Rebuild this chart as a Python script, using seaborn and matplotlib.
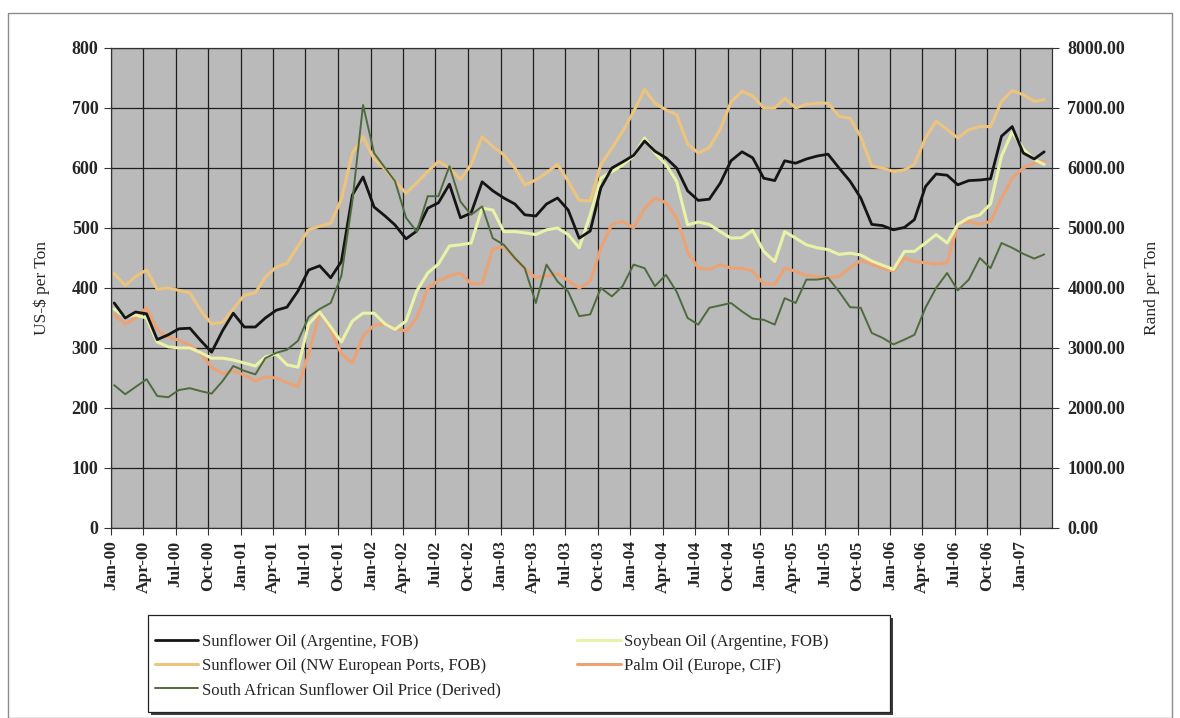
import numpy as np
import pandas as pd
import matplotlib
matplotlib.use("Agg")
import matplotlib.pyplot as plt
import seaborn as sns
from matplotlib.patches import Rectangle

# ---------------- data ----------------
months = pd.date_range("2000-01-01", periods=87, freq="MS")
obs_dates = months + pd.Timedelta(days=9)

sunflower_arg = [375, 350, 360, 357, 314, 322, 332, 333, 312, 293, 329, 358,
                 335, 335, 350, 363, 368, 395, 430, 437, 417, 444, 555, 585,
                 535, 520, 505, 482, 495, 533, 542, 573, 517, 525, 577, 562,
                 550, 540, 522, 520, 540, 550, 530, 483, 495, 567, 600, 610,
                 621, 645, 628, 617, 600, 562, 546, 548, 575, 612, 627, 617,
                 583, 579, 612, 608, 615, 620, 623, 600, 578, 550, 506, 504,
                 497, 501, 514, 569, 590, 588, 572, 579, 580, 582, 653, 669,
                 625, 615, 627]

soybean_arg = [365, 352, 355, 350, 310, 302, 300, 300, 292, 283, 283, 280,
               275, 270, 285, 290, 272, 268, 340, 360, 335, 310, 345, 358,
               358, 340, 331, 345, 395, 425, 440, 470, 472, 475, 533, 530,
               494, 494, 492, 489, 497, 500, 489, 467, 522, 583, 594, 605,
               620, 650, 625, 606, 578, 505, 510, 506, 494, 483, 484, 496,
               461, 444, 494, 483, 472, 467, 464, 456, 458, 455, 445, 438,
               431, 461, 461, 475, 489, 475, 506, 517, 522, 540, 620, 660,
               632, 614, 606]

sunflower_nw = [424, 404, 419, 430, 398, 400, 396, 392, 362, 340, 343, 365,
                388, 392, 418, 435, 441, 470, 497, 503, 508, 548, 625, 652,
                615, 598, 578, 558, 575, 594, 611, 600, 581, 606, 652, 636,
                622, 600, 572, 580, 592, 606, 578, 546, 545, 606, 633, 661,
                694, 731, 708, 697, 689, 640, 625, 634, 665, 710, 728, 720,
                700, 700, 716, 700, 706, 708, 708, 686, 683, 652, 603, 600,
                594, 597, 606, 650, 678, 664, 650, 664, 669, 669, 711, 729,
                722, 711, 714]

palm_europe = [355, 340, 350, 367, 330, 318, 313, 305, 290, 268, 257, 262,
               255, 245, 252, 250, 242, 236, 290, 360, 330, 290, 275, 320,
               338, 340, 333, 328, 350, 400, 412, 420, 425, 407, 408, 465,
               469, 450, 432, 417, 420, 424, 412, 400, 411, 467, 506, 511,
               500, 533, 550, 542, 517, 460, 433, 431, 439, 433, 433, 428,
               407, 406, 433, 428, 421, 419, 417, 419, 434, 446, 440, 433,
               428, 450, 444, 442, 440, 442, 506, 511, 506, 511, 550, 583,
               600, 608, 611]

sa_sunflower_rand = [2380, 2230, 2350, 2480, 2200, 2180, 2300, 2330, 2280, 2240,
                     2450, 2700, 2620, 2560, 2830, 2920, 2970, 3120, 3520, 3650,
                     3750, 4200, 5450, 7050, 6250, 6000, 5780, 5170, 4940, 5530,
                     5530, 6030, 5440, 5220, 5360, 4830, 4720, 4500, 4330, 3750,
                     4390, 4110, 3940, 3530, 3560, 4000, 3860, 4030, 4390, 4330,
                     4030, 4220, 3940, 3500, 3390, 3670, 3710, 3750, 3610, 3490,
                     3470, 3390, 3830, 3750, 4140, 4140, 4170, 3940, 3680, 3670,
                     3250, 3170, 3060, 3140, 3220, 3670, 4000, 4250, 3960, 4140,
                     4500, 4330, 4750, 4670, 4570, 4490, 4560]

tick_labels = ["Jan-00", "Apr-00", "Jul-00", "Oct-00", "Jan-01", "Apr-01", "Jul-01",
               "Oct-01", "Jan-02", "Apr-02", "Jul-02", "Oct-02", "Jan-03", "Apr-03",
               "Jul-03", "Oct-03", "Jan-04", "Apr-04", "Jul-04", "Oct-04", "Jan-05",
               "Apr-05", "Jul-05", "Oct-05", "Jan-06", "Apr-06", "Jul-06", "Oct-06",
               "Jan-07"]
left_ticks = [0, 100, 200, 300, 400, 500, 600, 700, 800]
right_ticks = [0, 1000, 2000, 3000, 4000, 5000, 6000, 7000, 8000]

series_labels = ["Sunflower Oil (Argentine, FOB)",
                 "Soybean Oil (Argentine, FOB)",
                 "Sunflower Oil (NW European Ports, FOB)",
                 "Palm Oil (Europe, CIF)",
                 "South African Sunflower Oil Price (Derived)"]

df = pd.DataFrame({
    "date": obs_dates,
    "sun_arg": sunflower_arg,
    "soy_arg": soybean_arg,
    "sun_nw": sunflower_nw,
    "palm": palm_europe,
    "sa": sa_sunflower_rand,
})

# ---------------- style ----------------
sns.set_style("white")
plt.rcParams["font.family"] = ["Liberation Serif", "DejaVu Serif"]

fig = plt.figure(figsize=(11.8, 7.18), dpi=100)
W, H = 1180, 718
ax = fig.add_axes([111 / W, 1 - 528 / H, (1052 - 111) / W, 480 / H])
ax.set_facecolor("#bababa")

c_sun_arg = "#151515"
c_soy = "#e9f2a6"
c_sun_nw = "#edc47e"
c_palm = "#eda274"
c_sa = "#4f6b3e"

sns.lineplot(data=df, x="date", y="sun_nw", ax=ax, color=c_sun_nw, lw=2.2,
             label=series_labels[2], legend=False)
sns.lineplot(data=df, x="date", y="palm", ax=ax, color=c_palm, lw=2.2,
             label=series_labels[3], legend=False)
sns.lineplot(data=df, x="date", y="soy_arg", ax=ax, color=c_soy, lw=2.2,
             label=series_labels[1], legend=False)
sns.lineplot(data=df, x="date", y="sun_arg", ax=ax, color=c_sun_arg, lw=2.0,
             label=series_labels[0], legend=False)

ax2 = ax.twinx()
sns.lineplot(data=df, x="date", y="sa", ax=ax2, color=c_sa, lw=1.4,
             label=series_labels[4], legend=False)

# axes limits / ticks
ax.set_xlim(months[0], months[-1] + pd.offsets.MonthBegin(1))
ax.set_ylim(0, 800)
ax2.set_ylim(0, 8000)

tick_dates = pd.to_datetime(tick_labels, format="%b-%y")
ax.set_xticks(tick_dates)
ax.set_xticklabels(tick_labels, rotation=90, fontweight="bold", fontsize=12.5)
ax.set_yticks(left_ticks)
ax.set_yticklabels([f"{t}" for t in left_ticks], fontweight="bold", fontsize=13)
ax2.set_yticks(right_ticks)
ax2.set_yticklabels([f"{t:.2f}" for t in right_ticks], fontweight="bold", fontsize=13)

ax.set_xlabel("")
ax.set_ylabel("US-$ per Ton", fontsize=12.5, labelpad=16)
ax2.set_ylabel("Rand per Ton", fontsize=12.5, labelpad=14)

ax.grid(True, which="major", color="#1e1e1e", lw=0.9)
ax.set_axisbelow(True)
for a in (ax, ax2):
    for s in a.spines.values():
        s.set_color("#333333")
        s.set_linewidth(0.8)
ax.tick_params(axis="both", direction="out", length=5, width=0.8, color="#333333",
               bottom=True, left=True, pad=4)
ax2.tick_params(axis="y", direction="out", length=5, width=0.8, color="#333333",
                right=True, pad=6)

# legend box (frame drawn separately so it spans the reference width)
box_x0, box_y0, box_x1, box_y1 = 148, 615, 890, 712
fig.add_artist(Rectangle(((box_x0 + 3) / W, 1 - (box_y1 + 3) / H),
                         (box_x1 - box_x0) / W, (box_y1 - box_y0) / H,
                         transform=fig.transFigure, facecolor="#3c3c3c",
                         edgecolor="none", zorder=2))
fig.add_artist(Rectangle((box_x0 / W, 1 - box_y1 / H),
                         (box_x1 - box_x0) / W, (box_y1 - box_y0) / H,
                         transform=fig.transFigure, facecolor="white",
                         edgecolor="#222222", lw=0.9, zorder=3))

h1, l1 = ax.get_legend_handles_labels()
h2, l2 = ax2.get_legend_handles_labels()
hd = dict(zip(l1 + l2, h1 + h2))
order = [series_labels[0], series_labels[2], series_labels[4],
         series_labels[1], series_labels[3]]
leg = fig.legend([hd[k] for k in order], order, loc="upper left",
                 bbox_to_anchor=(155 / W, 1 - 634 / H), ncol=2, fontsize=12,
                 frameon=False, handlelength=2.6, handletextpad=0.2,
                 columnspacing=4.6, labelspacing=0.48, borderpad=0,
                 borderaxespad=0)
leg.set_zorder(5)

# outer chart border
fig.add_artist(Rectangle((8 / W, 0), (1172 - 8) / W, 1 - 13 / H,
                         transform=fig.transFigure, fill=False,
                         edgecolor="#8c8c8c", lw=1.0))

fig.savefig("out.png", dpi=100)
